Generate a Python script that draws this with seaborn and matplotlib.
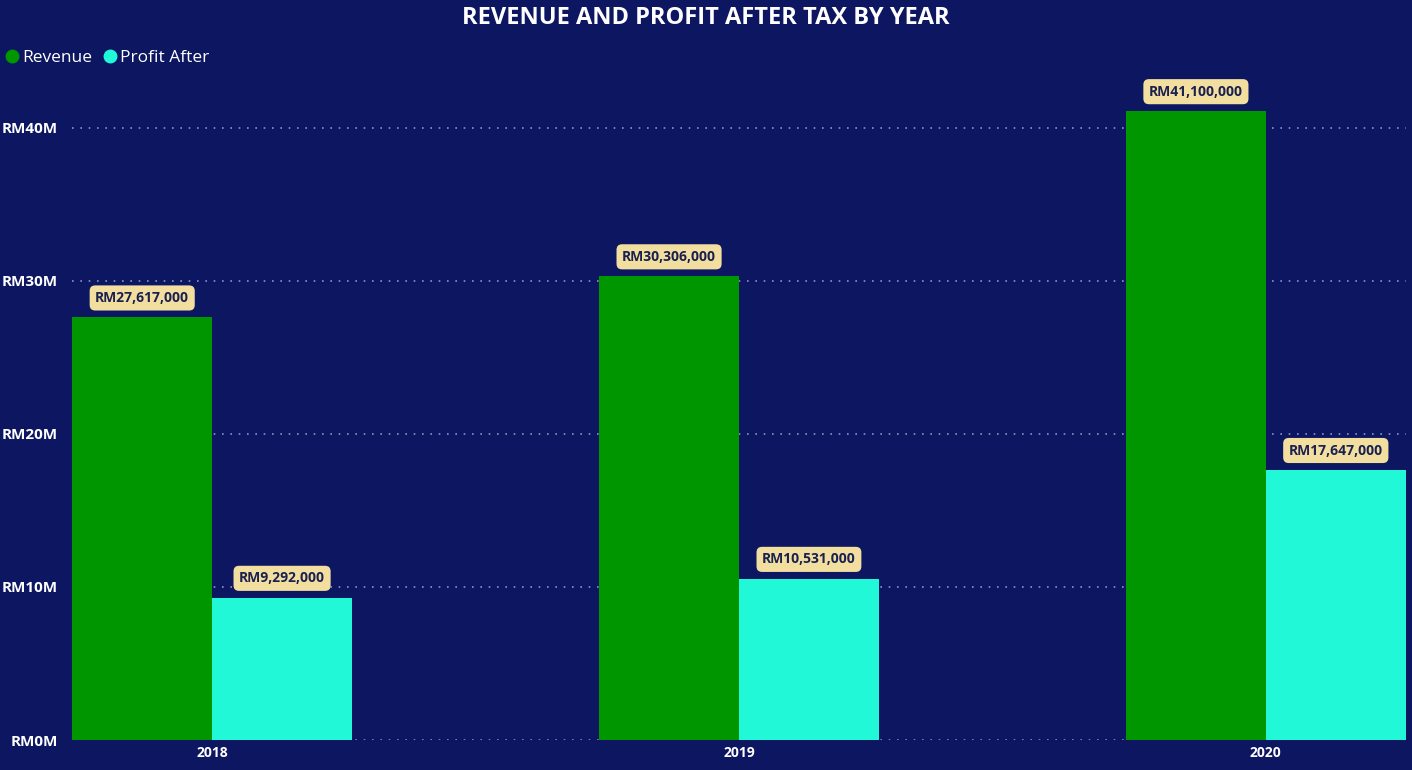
import pandas as pd
import matplotlib
matplotlib.use("Agg")
import matplotlib.pyplot as plt
import seaborn as sns
from matplotlib.ticker import FuncFormatter
from matplotlib.lines import Line2D

years = ["2018", "2019", "2020"]
revenue = [27617000, 30306000, 41100000]
profit_after = [9292000, 10531000, 17647000]
series_names = ["Revenue", "Profit After"]
colors = ["#009600", "#20F8D8"]

bg = "#0D1660"
df = pd.DataFrame({
    "Year": years * 2,
    "Value": revenue + profit_after,
    "Series": [series_names[0]] * 3 + [series_names[1]] * 3,
})

sns.set_theme(style="dark")
plt.rcParams["font.family"] = ["Open Sans", "DejaVu Sans"]

fig = plt.figure(figsize=(14.12, 7.7), dpi=100, facecolor=bg)
ax = fig.add_axes([72 / 1412, 30 / 770, (1406 - 72) / 1412, 670 / 770])
ax.set_facecolor(bg)

sns.barplot(data=df, x="Year", y="Value", hue="Series", palette=colors,
            width=0.531, gap=0, ax=ax, legend=False, saturation=1,
            edgecolor="none")

ax.set_xlim(-0.266, 2.266)
ax.set_ylim(0, 670 / 15.3 * 1e6)
ax.set_yticks([0, 10e6, 20e6, 30e6, 40e6])
ax.yaxis.set_major_formatter(FuncFormatter(lambda v, p: f"RM{v / 1e6:.0f}M"))
ax.grid(axis="y", color="#8A93C0", linestyle=(0, (1, 4)), linewidth=1.2)
ax.grid(axis="x", visible=False)
ax.set_axisbelow(True)
for s in ax.spines.values():
    s.set_visible(False)
ax.tick_params(axis="y", colors="white", labelsize=11, pad=10, length=0)
ax.tick_params(axis="x", colors="white", labelsize=10, pad=4, length=0)
for lbl in ax.get_yticklabels() + ax.get_xticklabels():
    lbl.set_fontweight("bold")
ax.set_xlabel("")
ax.set_ylabel("")

for cont in ax.containers:
    for bar in cont:
        h = bar.get_height()
        ax.annotate(f"RM{h:,.0f}", (bar.get_x() + bar.get_width() / 2, h),
                    xytext=(0, 9), textcoords="offset points",
                    ha="center", va="bottom", fontsize=10, fontweight="bold",
                    color="#1A2050",
                    bbox=dict(boxstyle="round,pad=0.4,rounding_size=0.4",
                              fc="#F2DFA0", ec="none"))

handles = [Line2D([0], [0], marker="o", linestyle="", markersize=9,
                  markerfacecolor=c, markeredgecolor=c) for c in colors]
fig.legend(handles, series_names, loc="upper left", bbox_to_anchor=(0.0, 0.94),
           ncol=2, frameon=False, fontsize=12.5, labelcolor="white",
           handletextpad=0.1, columnspacing=0.5, handlelength=1.0,
           borderaxespad=0.0, borderpad=0.2)

fig.text(0.5, 0.977, "REVENUE AND PROFIT AFTER TAX BY YEAR", ha="center",
         va="center", color="white", fontsize=17, fontweight="bold")

fig.savefig("out.png", dpi=100, facecolor=bg)
